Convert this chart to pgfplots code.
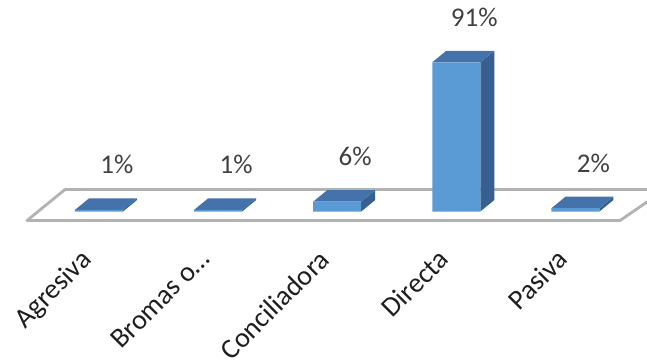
\documentclass[border=0pt]{standalone}
\usepackage{pgfplots}
\pgfplotsset{compat=1.18}
\usepackage{pgfplotstable}
\usepackage{fontspec}
\setmainfont{Carlito}

\definecolor{barfront}{RGB}{91,155,213}
\definecolor{bartop}{RGB}{68,114,170}
\definecolor{barside}{RGB}{55,96,144}
\definecolor{floorline}{RGB}{178,178,178}
\definecolor{valtext}{RGB}{64,64,64}
\definecolor{cattext}{RGB}{30,30,30}

% share of each communication style (%)
\pgfplotstableread[col sep=comma]{
x,v,name
0,1,Agresiva
1,1,Bromas o…
2,6,Conciliadora
3,91,Directa
4,2,Pasiva
}\bars

% bar geometry in axis units: half width and depth offsets
\def\hw{0.2015}
\def\dx{0.1175}
\def\dy{7.0}

\begin{document}
\begin{tikzpicture}
\begin{axis}[
  x=59.55pt, y=0.82pt,
  xmin=-0.8312, xmax=4.6012,
  ymin=-91.16, ymax=128.96,
  enlargelimits=false,
  hide axis,
  clip=false,
  /pgf/number format/assume math mode=true,
]
% floor of the 3-D plot area
\addplot[fill=white, draw=floorline, line width=1.4pt, line join=round]
  coordinates {(-0.6045,-5.5) (4.3745,-5.5) (4.7535,13.4) (-0.2855,13.4)} --cycle;

% side and top faces of each bar, built from its value
\pgfplotsinvokeforeach{0,...,4}{
  \pgfplotstablegetelem{#1}{v}\of\bars
  \let\val\pgfplotsretval
  \pgfmathsetmacro\xl{#1-\hw}
  \pgfmathsetmacro\xr{#1+\hw}
  \pgfmathsetmacro\xlb{#1-\hw+\dx}
  \pgfmathsetmacro\xrb{#1+\hw+\dx}
  \pgfmathsetmacro\yt{\val+\dy}
  \edef\faces{%
    \noexpand\addplot[fill=barside, draw=none]
      coordinates {(\xr,0) (\xrb,\dy) (\xrb,\yt) (\xr,\val)} --cycle;
    \noexpand\addplot[fill=bartop, draw=none]
      coordinates {(\xl,\val) (\xr,\val) (\xrb,\yt) (\xlb,\yt)} --cycle;
  }
  \faces
}

% front faces
\addplot[ybar, bar width=0.403, fill=barfront, draw=none]
  table[x=x, y=v] {\bars};

% value labels
\addplot[draw=none, point meta=\thisrow{v},
  nodes near coords={\pgfmathprintnumber{\pgfplotspointmeta}\%},
  every node near coord/.append style={anchor=center, inner sep=0pt,
    text=valtext, font=\fontsize{13.5}{16}\selectfont}]
  table[x expr=\thisrow{x}+0.151, y expr=\thisrow{v}+27.5] {\bars};

% category labels
\addplot[draw=none, point meta=explicit symbolic,
  nodes near coords,
  every node near coord/.append style={rotate=45, anchor=north east,
    inner sep=0pt, text=cattext, font=\fontsize{14}{16}\selectfont}]
  table[x expr=\thisrow{x}-0.165, y expr=-21.8, meta=name] {\bars};
\end{axis}
\pgfresetboundingbox
\path (current axis.south west) rectangle (current axis.north east);
\end{tikzpicture}
\end{document}
